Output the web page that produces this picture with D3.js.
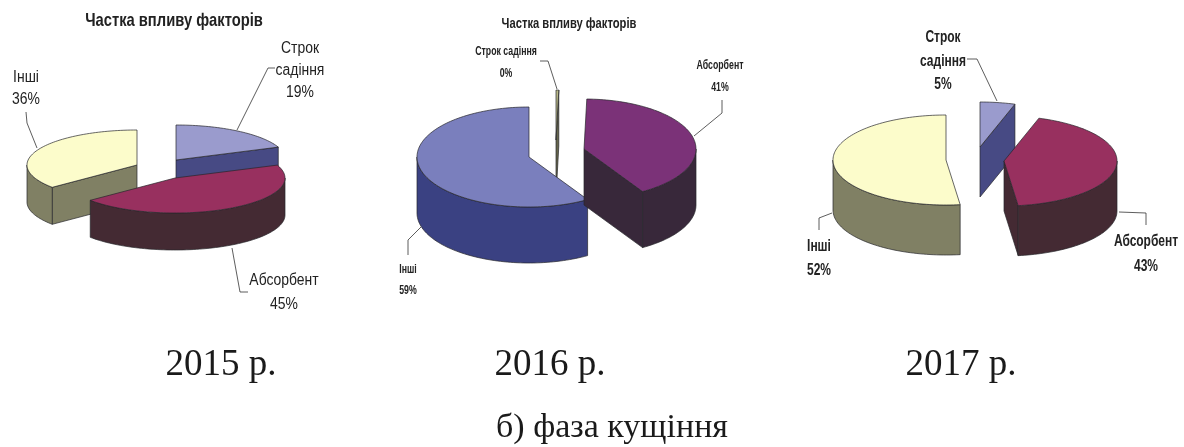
<!DOCTYPE html>
<html><head><meta charset="utf-8">
<script src="https://cdn.jsdelivr.net/npm/d3@7"></script>
<style>html,body{margin:0;background:#fff}svg{display:block;filter:blur(.5px)}
text{font-family:"Liberation Sans",sans-serif;fill:#222}
.serif{font-family:"Liberation Serif",serif;fill:#1a1a1a}</style></head><body>
<script>
// ---- data ----
const categories = ["Строк садіння", "Абсорбент", "Інші"];
const years = ["2015 р.", "2016 р.", "2017 р."];
const values2015 = [19, 45, 36];
const values2016 = [0.4, 41, 59];
const values2017 = [5, 43, 52];
const chartTitle = "Частка впливу факторів";
const phaseCaption = "б) фаза кущіння";

// ---- palettes ----
const paletteA = [{top:"#9a9bcd",wall:"#474a84"},{top:"#98305f",wall:"#442a33"},{top:"#fcfccb",wall:"#808064"}];
const paletteB = [{top:"#b8b888",wall:"#66664c"},{top:"#7b3278",wall:"#38283a"},{top:"#7a7fbd",wall:"#3a4182"}];

// ---- layout ----
const layouts = [
 {values:values2015,pal:paletteA,rx:110,ry:35,depth:37,
  apex:[[176,160],[175,178],[137,165]],
  title:{x:174,y:26,size:18,sx:.82},weight:"normal",size:16,sx:.87,
  labels:[{x:300,ys:[53,75,97],t:["Строк","садіння","19%"]},
          {x:284,ys:[285,309],t:["Абсорбент","45%"]},
          {x:26,ys:[82,104],t:["Інші","36%"]}],
  leaders:[[[237,130],[268,68],[275,68]],[[232,248],[240,292],[248,292]],[[37,148],[27,123],[26,112]]]},
 {values:values2016,pal:paletteB,rx:112,ry:50,depth:56,
  apex:[[556,140],[584,149],[529,157]],
  title:{x:569,y:28,size:14,sx:.8},weight:"bold",size:12,sx:.73,
  labels:[{x:506,ys:[55,77],t:["Строк садіння","0%"]},
          {x:720,ys:[69,91],t:["Абсорбент","41%"]},
          {x:408,ys:[273,294],t:["Інші","59%"]}],
  leaders:[[[540,61],[548,61],[557,89]],[[694,136],[722,113],[722,100]],[[421,227],[408,240],[408,255]]]},
 {values:values2017,pal:paletteA,rx:113,ry:45,depth:50,
  apex:[[980,147],[1004,161],[946,160]],
  title:null,weight:"bold",size:16,sx:.75,
  labels:[{x:943,ys:[42,66,89],t:["Строк","садіння","5%"]},
          {x:1146,ys:[246,271],t:["Абсорбент","43%"]},
          {x:819,ys:[251,275],t:["Інші","52%"]}],
  leaders:[[[967,59],[977,59],[997,101]],[[1119,212],[1146,213],[1146,225]],[[832,213],[819,218],[819,230]]]}
];
const yearX = [221, 550, 961], yearY = 375;
const drawOrder = [0, 2, 1];

const svg = d3.select("body").append("svg").attr("width",1184).attr("height",447);
const line = d3.line();
const TAU = 2*Math.PI;

function narrowText(parent,x,y,size,sx,weight,str){
  parent.append("text").attr("transform",`translate(${x},${y}) scale(${sx},1)`)
    .attr("text-anchor","middle").attr("font-size",size).attr("font-weight",weight).text(str);
}

layouts.forEach((c,ci)=>{
  const g = svg.append("g");
  const arcs = d3.pie().sort(null)(c.values);
  const pt = (a,o,dy=0)=>[o[0]+c.rx*Math.sin(a), o[1]-c.ry*Math.cos(a)+dy];
  const samples = (a0,a1)=>{
    const n = Math.max(2,Math.ceil((a1-a0)/0.03));
    return d3.range(n+1).map(i=>a0+(a1-a0)*i/n);
  };
  drawOrder.forEach(i=>{
    const s = arcs[i], o = c.apex[i], col = c.pal[i];
    const sg = g.append("g").attr("stroke","#26262b").attr("stroke-width",.7).attr("stroke-linejoin","round");
    const a0 = s.startAngle, a1 = s.endAngle;
    // cut faces that face the viewer
    [[a0,Math.sin(a0)<-1e-3],[a1,Math.sin(a1)>1e-3]].forEach(([a,vis])=>{
      if(!vis) return;
      const p = pt(a,o);
      sg.append("path").attr("fill",col.wall)
        .attr("d",line([o,p,[p[0],p[1]+c.depth],[o[0],o[1]+c.depth]])+"Z");
    });
    // outer wall: part of the rim at the front (90° to 270°)
    const w0 = Math.max(a0,Math.PI/2), w1 = Math.min(a1,Math.PI*1.5);
    if(w1>w0){
      const ang = samples(w0,w1);
      sg.append("path").attr("fill",col.wall)
        .attr("d",line([...ang.map(a=>pt(a,o)),...ang.slice().reverse().map(a=>pt(a,o,c.depth))])+"Z");
    }
    // top face
    sg.append("path").attr("fill",col.top)
      .attr("d",line([o,...samples(a0,a1).map(a=>pt(a,o))])+"Z");
  });
  c.leaders.forEach(l=>g.append("path").attr("fill","none").attr("stroke","#333").attr("stroke-width",.8).attr("d",line(l)));
  c.labels.forEach(l=>l.t.forEach((t,j)=>narrowText(g,l.x,l.ys[j],c.size,c.sx,c.weight,t)));
  if(c.title) narrowText(g,c.title.x,c.title.y,c.title.size,c.title.sx,"bold",chartTitle);
  svg.append("text").attr("class","serif").attr("x",yearX[ci]).attr("y",yearY)
     .attr("text-anchor","middle").attr("font-size",37).text(years[ci]);
});
svg.append("text").attr("class","serif").attr("x",612).attr("y",437)
   .attr("text-anchor","middle").attr("font-size",34).text(phaseCaption);
</script></body></html>
